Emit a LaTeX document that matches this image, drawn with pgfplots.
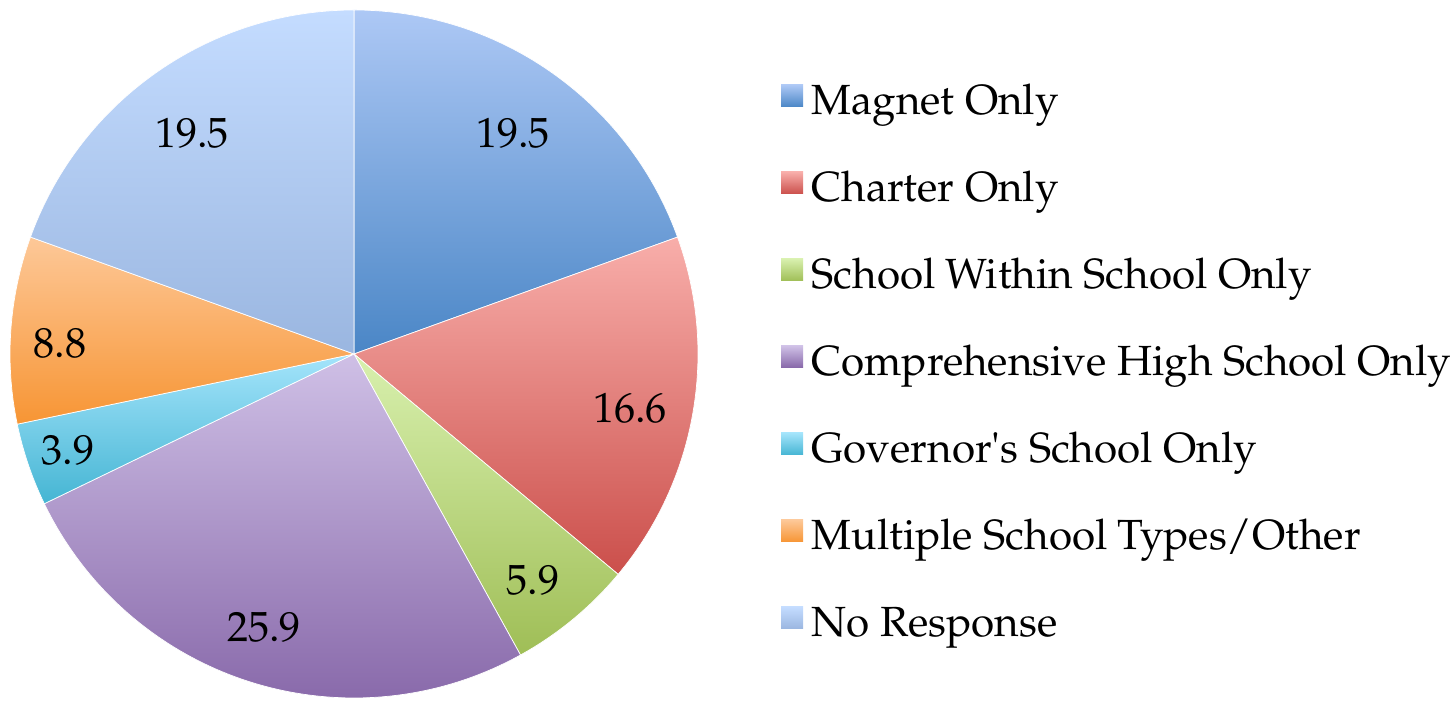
\documentclass[border=0pt]{standalone}
\usepackage[T1]{fontenc}
\usepackage{textcomp}
\usepackage{mathpazo}
\usepackage{pgfplots}
\pgfplotsset{compat=1.18}
\definecolor{aT}{HTML}{ADC8F5}\definecolor{aB}{HTML}{4A86C6}
\definecolor{bT}{HTML}{F8AEAA}\definecolor{bB}{HTML}{CB4F4B}
\definecolor{cT}{HTML}{D8F0AE}\definecolor{cB}{HTML}{9FBE56}
\definecolor{dT}{HTML}{CFC0E6}\definecolor{dB}{HTML}{8666A8}
\definecolor{eT}{HTML}{A4E4FB}\definecolor{eB}{HTML}{45B5D3}
\definecolor{fT}{HTML}{FDC898}\definecolor{fB}{HTML}{F79534}
\definecolor{gT}{HTML}{C4DCFF}\definecolor{gB}{HTML}{9AB6E0}
\newcommand{\chartfont}{\fontsize{12.0}{14}\selectfont}
\begin{document}
\begin{tikzpicture}
\begin{axis}[x=1cm,y=1cm,xmin=0,xmax=14.51,ymin=0,ymax=6.98,hide axis,clip=false,scale only axis]
\addplot[draw=none] coordinates {(0,0) (14.51,6.98)};
\pgfplotsextra{
  \gdef\ang{90}
  \foreach \v/\ct/\cb/\lx/\ly in {
    19.5/aT/aB/5.13/5.65,
    16.6/bT/bB/6.30/2.90,
    5.9/cT/cB/5.33/1.18,
    25.9/dT/dB/2.64/0.71,
    3.9/eT/eB/0.68/2.48,
    8.8/fT/fB/0.60/3.55,
    19.5/gT/gB/1.92/5.65}{
    \pgfmathsetmacro{\e}{\ang-\v*360/100.1}
    \shade[top color=\ct,bottom color=\cb,draw=white,line width=0.2pt]
      (axis cs:3.54,3.44) -- ++(\ang:3.44cm) arc[start angle=\ang,end angle=\e,radius=3.44cm] -- cycle;
    \node[font=\chartfont,inner sep=0pt] at (axis cs:\lx,\ly) {\v};
    \xdef\ang{\e}
  }
  \foreach \name/\ct/\cb/\yb in {
    {Magnet Only}/aT/aB/5.83,
    {Charter Only}/bT/bB/4.96,
    {School Within School Only}/cT/cB/4.09,
    {Comprehensive High School Only}/dT/dB/3.22,
    {Governor\textquotesingle s School Only}/eT/eB/2.35,
    {Multiple School Types/Other}/fT/fB/1.48,
    {No Response}/gT/gB/0.61}{
    \pgfmathsetmacro{\ya}{\yb+0.08}
    \pgfmathsetmacro{\yc}{\yb+0.30}
    \shade[top color=\ct,bottom color=\cb] (axis cs:7.81,\ya) rectangle (axis cs:8.03,\yc);
    \node[font=\chartfont,inner sep=0pt,anchor=base west] at (axis cs:8.11,\yb) {\name};
  }
}
\end{axis}
\end{tikzpicture}
\end{document}
